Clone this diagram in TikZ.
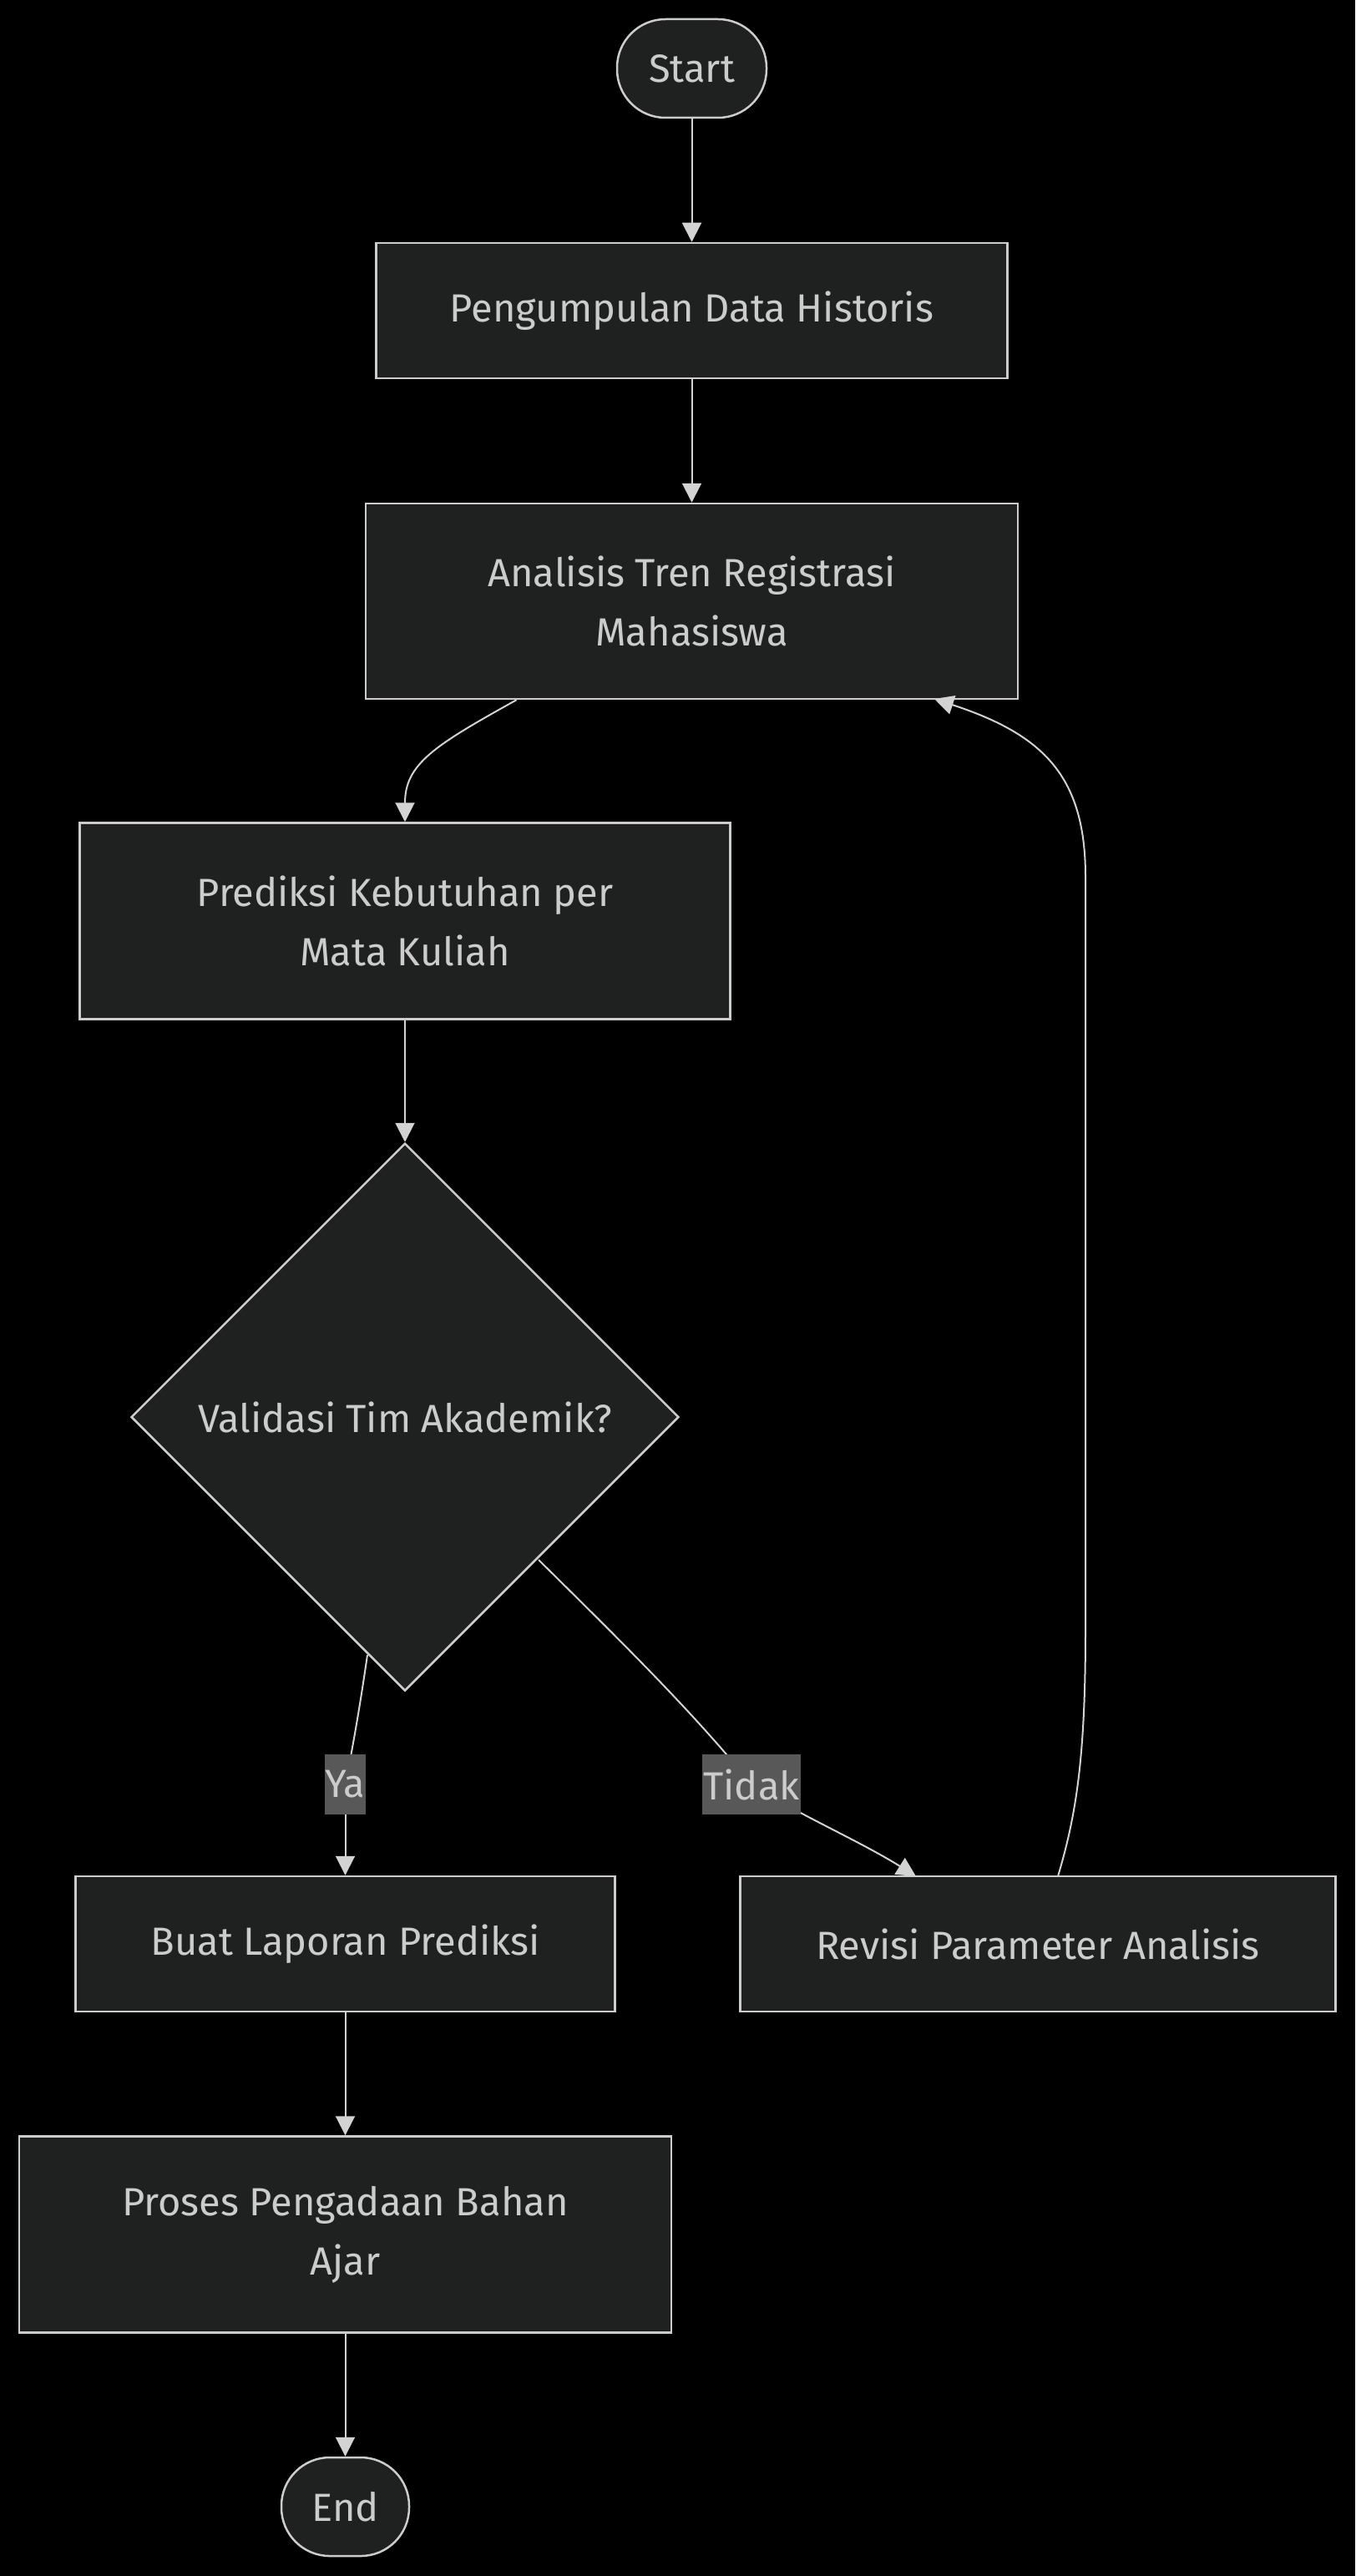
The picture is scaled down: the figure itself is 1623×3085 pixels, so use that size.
\documentclass[tikz,border=0pt]{standalone}
\usepackage{fontspec}
\setmainfont{Fira Sans}
\usetikzlibrary{shapes.geometric,arrows.meta}
\definecolor{nodefill}{HTML}{1F2020}
\definecolor{nodeline}{HTML}{CCCCCC}
\definecolor{txt}{HTML}{CCCCCC}
\definecolor{edgecol}{HTML}{D3D3D3}
\definecolor{lblbg}{HTML}{585858}
\tikzset{
  base/.style={draw=nodeline, fill=nodefill, line width=2.5pt, text=txt,
    font=\fontsize{47}{71}\selectfont, align=center, inner sep=0pt},
  procbox/.style={base, rectangle},
  termbox/.style={base, rectangle, rounded corners=58pt},
  decbox/.style={base, diamond, aspect=1, minimum width=656pt, minimum height=656pt},
  edgelbl/.style={fill=lblbg, text=txt, font=\fontsize{47}{71}\selectfont,
    inner xsep=1pt, inner ysep=0pt, minimum height=72pt},
  conn/.style={draw=edgecol, line width=2pt, -{Triangle[width=23pt,length=23pt]}},
  plain/.style={draw=edgecol, line width=2pt}
}
\begin{document}
\begin{tikzpicture}[x=1pt,y=-1pt]
\fill[black] (0,0) rectangle (1623,3085);
\useasboundingbox (0,0) rectangle (1623,3085);

\node[termbox, minimum width=179pt, minimum height=118pt] (start) at (828.5,82) {Start};
\node[procbox, minimum width=756pt, minimum height=162pt] (peng) at (828.5,372) {Pengumpulan Data Historis};
\node[procbox, minimum width=781pt, minimum height=234pt] (ana) at (828.5,720) {Analisis Tren Registrasi\\Mahasiswa};
\node[procbox, minimum width=779pt, minimum height=235pt] (pred) at (485,1103) {Prediksi Kebutuhan per\\Mata Kuliah};
\node[decbox] (val) at (485,1697) {Validasi Tim Akademik?};
\node[procbox, minimum width=646pt, minimum height=162pt] (buat) at (413.5,2328) {Buat Laporan Prediksi};
\node[procbox, minimum width=713pt, minimum height=162pt] (rev) at (1243,2328) {Revisi Parameter Analisis};
\node[procbox, minimum width=781pt, minimum height=235pt] (pros) at (413.5,2676) {Proses Pengadaan Bahan\\Ajar};
\node[termbox, minimum width=153pt, minimum height=118pt] (end) at (413.5,3002) {End};

% straight edges
\draw[conn] (start.south) -- (peng.north);
\draw[conn] (peng.south) -- (ana.north);
\draw[conn] (pred.south) -- (val.north);
\draw[conn] (buat.south) -- (pros.north);
\draw[conn] (pros.south) -- (end.north);

% Analisis -> Prediksi
\draw[conn] ([xshift=-210pt]ana.south) .. controls (520,893) and (485,915) .. (pred.north);

% label nodes
\node[edgelbl] (ya) at (413.5,2137) {Ya};
\node[edgelbl] (tidak) at (900,2137) {Tidak};

% Ya edge
\coordinate (yaStart) at (440,1982);
\draw[plain] (yaStart) .. controls (433,2030) and (425,2080) .. (ya.center);
\draw[conn] (ya.center) -- (buat.north);

% Tidak edge
\coordinate (tdStart) at (645,1868);
\coordinate (tdEnd) at (1097,2247);
\draw[plain] (tdStart) .. controls (740,1962) and (830,2050) .. (tidak.center);
\draw[conn] (tidak.center) .. controls (950,2170) and (1030,2205) .. (tdEnd);

% Revisi -> Analisis
\coordinate (rvStart) at (1267,2247);
\coordinate (anEnd) at (1119,837);
\draw[conn] (rvStart) .. controls (1290,2170) and (1300,2100) .. (1300,1950)
  -- (1300,1050) .. controls (1300,930) and (1250,880) .. (anEnd);

% redraw labels on top
\node[edgelbl] at (ya.center) {Ya};
\node[edgelbl] at (tidak.center) {Tidak};
\end{tikzpicture}
\end{document}
